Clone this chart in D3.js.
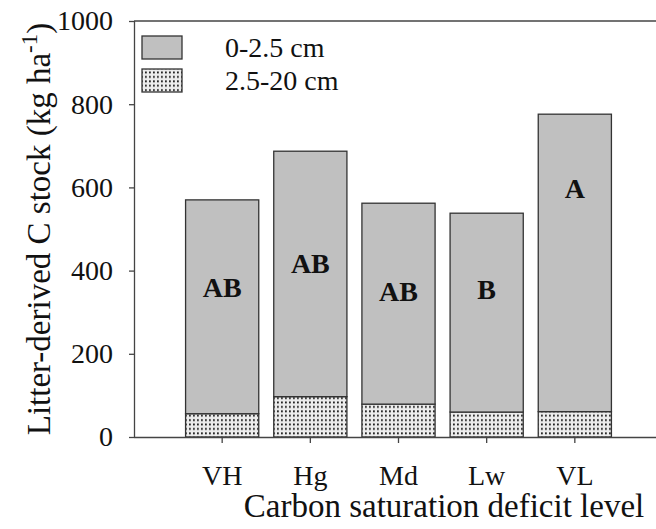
<!DOCTYPE html>
<html>
<head>
<meta charset="utf-8">
<script src="https://cdn.jsdelivr.net/npm/d3@7"></script>
<style>
  html, body { margin: 0; padding: 0; background: #fff; }
  svg { display: block; font-family: "Liberation Serif", "Times New Roman", serif; }
</style>
</head>
<body>
<svg id="chart" width="656" height="529"></svg>
<script>
// Carbon saturation deficit levels
const categories = ["VH", "Hg", "Md", "Lw", "VL"];
// Litter-derived C stock (kg ha-1) by soil depth
const deep = [56, 97, 79, 60, 61];          // 2.5-20 cm
const surface = [514, 590, 483, 478, 715];  // 0-2.5 cm
// Significance letters and the heights where they sit (data units)
const letters = ["AB", "AB", "AB", "B", "A"];
const letterAt = [336, 394, 328, 332, 575];
const yTicks = [0, 200, 400, 600, 800, 1000];
const seriesNames = ["0-2.5 cm", "2.5-20 cm"];

const svg = d3.select("#chart");
const plotLeft = 134, plotTop = 21, plotBottom = 437, plotRight = 663;

// dotted fill
const defs = svg.append("defs");
const pat = defs.append("pattern")
  .attr("id", "dots").attr("patternUnits", "userSpaceOnUse")
  .attr("width", 4).attr("height", 4.4);
pat.append("rect").attr("width", 4).attr("height", 4.4).attr("fill", "#ececec");
pat.append("rect").attr("x", 1).attr("y", 1.2).attr("width", 1.8).attr("height", 1.8).attr("fill", "#1a1a1a");

const x = d3.scaleBand().domain(categories).range([plotLeft, plotRight])
  .paddingInner(0.17).paddingOuter(0.585);
const y = d3.scaleLinear().domain([0, 1000]).range([plotBottom, plotTop]);

const rows = categories.map((c, i) => ({ cat: c, deep: deep[i], surface: surface[i] }));
const stack = d3.stack().keys(["deep", "surface"])(rows);
const fills = { deep: "url(#dots)", surface: "#c0c0c0" };

stack.forEach(layer => {
  svg.append("g").selectAll("rect").data(layer).join("rect")
    .attr("x", d => x(d.data.cat))
    .attr("width", x.bandwidth())
    .attr("y", d => y(d[1]))
    .attr("height", d => y(d[0]) - y(d[1]))
    .attr("fill", fills[layer.key])
    .attr("stroke", "#333").attr("stroke-width", 1.3);
});

// letters
svg.append("g").selectAll("text").data(categories).join("text")
  .attr("x", d => x(d) + x.bandwidth() / 2)
  .attr("y", (d, i) => y(letterAt[i]))
  .attr("text-anchor", "middle")
  .attr("font-size", 28).attr("font-weight", "bold").attr("fill", "#111")
  .text((d, i) => letters[i]);

// top frame line
svg.append("line").attr("x1", plotLeft).attr("x2", 656).attr("y1", plotTop).attr("y2", plotTop)
  .attr("stroke", "#444").attr("stroke-width", 1.3);

// axes
const yAxis = svg.append("g").attr("transform", `translate(${plotLeft},0)`)
  .call(d3.axisLeft(y).tickValues(yTicks).tickFormat(d3.format("d")).tickSize(5).tickPadding(16));
const xAxis = svg.append("g").attr("transform", `translate(0,${plotBottom})`)
  .call(d3.axisBottom(x).tickSize(6).tickPadding(22));
[yAxis, xAxis].forEach(g => {
  g.select(".domain").attr("stroke", "#444").attr("stroke-width", 1.3);
  g.selectAll(".tick line").attr("stroke", "#444").attr("stroke-width", 1.3);
  g.selectAll("text").attr("font-size", 28).attr("fill", "#111")
    .attr("font-family", "Liberation Serif, serif");
});
xAxis.select(".domain").attr("d", `M${plotLeft},0.5H656`);
yAxis.select(".domain").attr("d", `M0.5,${plotBottom}V${plotTop}`);

// axis titles
svg.append("text").attr("x", 444).attr("y", 517).attr("text-anchor", "middle")
  .attr("font-size", 33).attr("fill", "#111").text("Carbon saturation deficit level");

const yt = svg.append("text")
  .attr("transform", `translate(50,229) rotate(-90)`)
  .attr("text-anchor", "middle").attr("font-size", 33).attr("fill", "#111");
yt.append("tspan").text("Litter-derived C stock (kg ha");
yt.append("tspan").attr("dy", -13).attr("font-size", 23).text("-1");
yt.append("tspan").attr("dy", 13).text(")");

// legend
const lg = svg.append("g");
seriesNames.forEach((name, i) => {
  lg.append("rect").attr("x", 142).attr("y", 36 + i * 33).attr("width", 40).attr("height", 23)
    .attr("fill", i === 0 ? fills.surface : fills.deep)
    .attr("stroke", "#333").attr("stroke-width", 1.3);
  lg.append("text").attr("x", 225).attr("y", 57 + i * 33)
    .attr("font-size", 28).attr("fill", "#111").text(name);
});
</script>
</body>
</html>
